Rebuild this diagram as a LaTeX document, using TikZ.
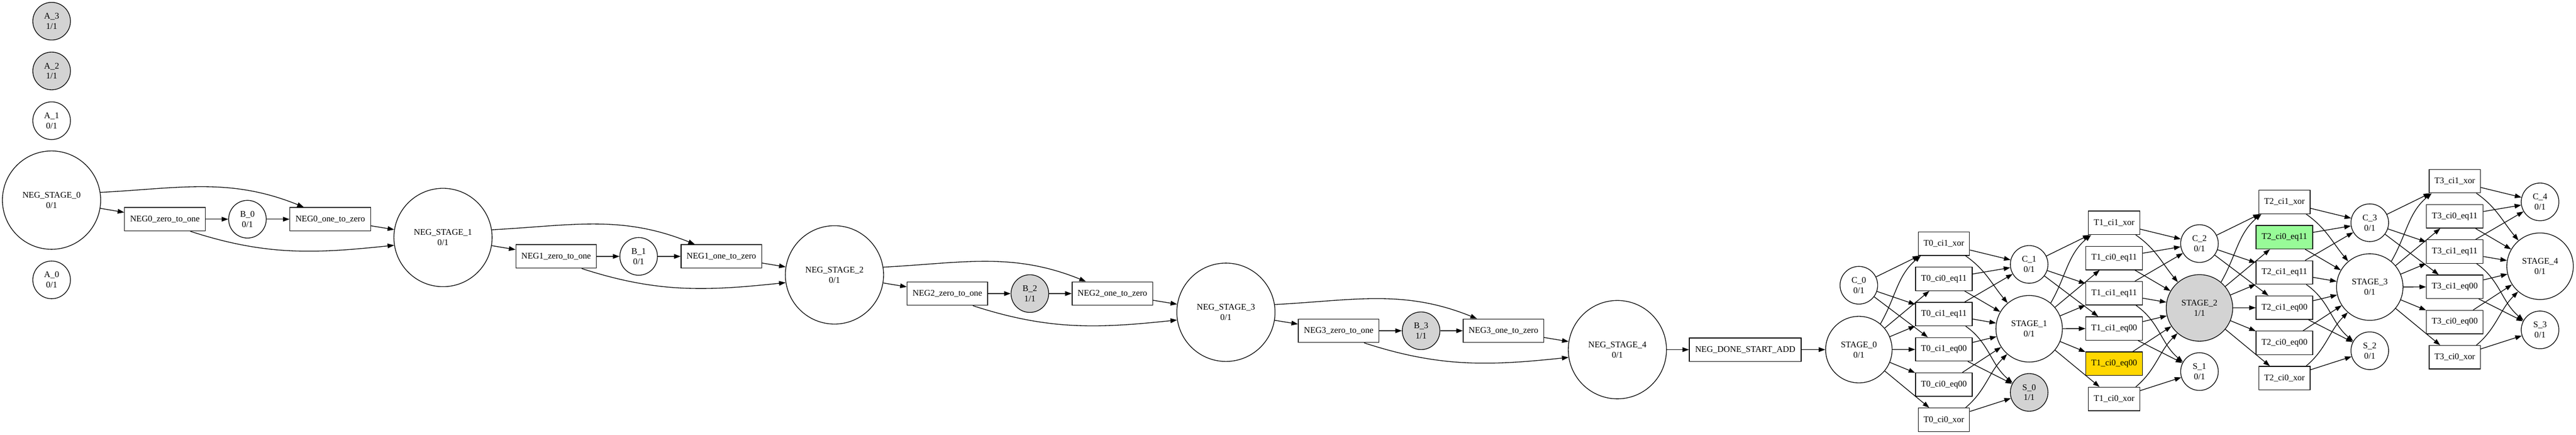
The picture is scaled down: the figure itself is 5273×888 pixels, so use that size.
\documentclass[tikz,border=0pt]{standalone}
\usepackage{fontspec}
\setmainfont{Liberation Serif}
\usetikzlibrary{arrows.meta}
\definecolor{lgray}{HTML}{D3D3D3}
\definecolor{pgreen}{HTML}{98FB98}
\definecolor{goldc}{HTML}{FFD700}
\begin{document}
\begin{tikzpicture}[x=1pt,y=-1pt,
  every node/.style={font=\fontsize{17.8}{21}\selectfont, align=center, inner sep=0pt, line width=1.4pt},
  place/.style={draw, circle, minimum size=77pt, fill=white},
  bigplace/.style={draw, circle, minimum size=136pt, fill=white},
  negplace/.style={draw, circle, minimum size=201pt, fill=white},
  trans/.style={draw, rectangle, minimum height=48pt, fill=white},
  xorbox/.style={trans, minimum width=105pt},
  eqbox/.style={trans, minimum width=116pt},
  negbox/.style={trans, minimum width=165pt},
  marked/.style={fill=lgray},
  arc/.style={draw, line width=1.4pt, -{Triangle[length=13.5pt,width=9.5pt]}},
]
\useasboundingbox (0,0) rectangle (5273,888);

% ---- A places ----
\node[place,marked] (A3) at (105.7,43.3) {A\_3\\1/1};
\node[place,marked] (A2) at (105.7,145) {A\_2\\1/1};
\node[place] (A1) at (105.7,246.7) {A\_1\\0/1};
\node[place] (A0) at (105.7,572) {A\_0\\0/1};

% ---- negation chain ----
\foreach \k/\bf/\bv in {0/white/0,1/white/0,2/lgray/1,3/lgray/1}{
  \pgfmathsetmacro\sx{105.5+801.3*\k}
  \pgfmathsetmacro\sy{409+76.4*\k}
  \pgfmathsetmacro\ry{448+76*\k}
  \node[negplace] (negS\k) at (\sx,\sy) {NEG\_STAGE\_\k\\0/1};
  \node[negbox] (negZ\k) at (337.5+800.9*\k,\ry) {NEG\k\_zero\_to\_one};
  \node[place,fill=\bf] (B\k) at (506.5+800.8*\k,\ry) {B\_\k\\\bv/1};
  \node[negbox] (negO\k) at (676+800.5*\k,\ry) {NEG\k\_one\_to\_zero};
}
\node[negplace] (negS4) at (3310.7,714.6) {NEG\_STAGE\_4\\0/1};
\node[trans, minimum width=229pt] (done) at (3572.5,714.6) {NEG\_DONE\_START\_ADD};

% ---- adder places ----
\foreach \j in {0,...,4}{
  \node[place] (C\j) at (3805+348.6*\j,583-42.6*\j) {C\_\j\\0/1};
}
\foreach \j/\f/\v in {0/white/0,1/white/0,2/lgray/1,3/white/0,4/white/0}{
  \node[bigplace,fill=\f] (ST\j) at (3805+348.6*\j,714.5-42.6*\j) {STAGE\_\j\\\v/1};
}
\foreach \j/\f/\v in {0/lgray/1,1/white/0,2/white/0,3/white/0}{
  \node[place,fill=\f] (S\j) at (3805+348.6*\j+348.6,802-42.6*\j) {S\_\j\\\v/1};
}

% ---- adder transitions ----
\foreach \k/\fB/\fE in {0/white/white,1/white/goldc,2/pgreen/white,3/white/white}{
  \pgfmathsetmacro\tx{3979+348.6*\k}
  \pgfmathsetmacro\ty{498-42.6*\k}
  \node[xorbox] (T\k-1) at (\tx,\ty) {T\k\_ci1\_xor};
  \node[eqbox,fill=\fB] (T\k-2) at (\tx,\ty+72) {T\k\_ci0\_eq11};
  \node[eqbox] (T\k-3) at (\tx,\ty+144) {T\k\_ci1\_eq11};
  \node[eqbox] (T\k-4) at (\tx,\ty+216) {T\k\_ci1\_eq00};
  \node[eqbox,fill=\fE] (T\k-5) at (\tx,\ty+288) {T\k\_ci0\_eq00};
  \node[xorbox] (T\k-6) at (\tx,\ty+360) {T\k\_ci0\_xor};
}

% ---- negation arcs ----
\foreach \k in {0,...,3}{
  \pgfmathtruncatemacro\nn{\k+1}
  \draw[arc] (negS\k) -- (negZ\k);
  \draw[arc] (negZ\k) -- (B\k);
  \draw[arc] (B\k) -- (negO\k);
  \draw[arc] (negO\k) -- (negS\nn);
  \draw[arc] (negS\k.9) to[out=3,in=158] ([xshift=29pt]negO\k.north west);
  \draw[arc] ([xshift=52pt]negZ\k.south) to[out=-18,in=186] (negS\nn.189);
}
\draw[arc] (negS4) -- (done);
\draw[arc] (done) -- (ST0);

% ---- adder arcs ----
\foreach \k in {0,...,3}{
  \pgfmathtruncatemacro\nn{\k+1}
  \draw[arc] (C\k) -- (T\k-1);
  \draw[arc] (C\k) -- (T\k-3);
  \draw[arc] (C\k) -- (T\k-4);
  \draw[arc] (ST\k.50) to[out=60,in=-140] ([xshift=6pt]T\k-1.south west);
  \foreach \i in {2,...,6}{ \draw[arc] (ST\k) -- (T\k-\i); }
  \draw[arc] (T\k-1) -- (C\nn);
  \draw[arc] ([xshift=-9pt]T\k-1.south east) to[out=-35,in=130] (ST\nn.130);
  \draw[arc] (T\k-2) -- (C\nn);
  \draw[arc] (T\k-2) -- (ST\nn);
  \draw[arc] (T\k-3) -- (C\nn);
  \draw[arc] (T\k-3) -- (ST\nn);
  \draw[arc] ([xshift=-14pt]T\k-3.south east) to[out=-35,in=140] (S\k.150);
  \draw[arc] (T\k-4) -- (ST\nn);
  \draw[arc] (T\k-4) -- (S\k);
  \draw[arc] (T\k-5) -- (ST\nn);
  \draw[arc] ([xshift=-9pt]T\k-6.north east) to[out=40,in=-135] (ST\nn.229);
  \draw[arc] (T\k-6) -- (S\k);
}
\end{tikzpicture}
\end{document}
